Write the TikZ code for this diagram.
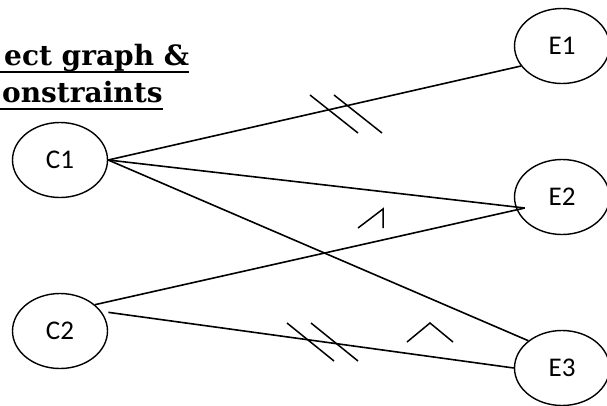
\documentclass[tikz,border=0pt]{standalone}
\usepackage{fontspec}
\setmainfont{Carlito}
\newfontfamily\titlefont{DejaVu Serif}
\usetikzlibrary{shapes.geometric,calc}
\begin{document}
\begin{tikzpicture}[x=1pt,y=-1pt,
  ev/.style={draw,line width=1.4pt,ellipse,minimum width=95pt,minimum height=75pt,inner sep=0pt,font=\fontsize{27}{30}\selectfont},
  edge/.style={line width=1.6pt},
  cmark/.style={line width=1.5pt},
  ttl/.style={anchor=base west,inner sep=0pt,font=\titlefont\bfseries\fontsize{28}{32}\selectfont},
  uline/.style={line width=1.8pt}]
\useasboundingbox (0,0) rectangle (607,405);
\clip (0,0) rectangle (607,405);
% title
\node[ttl] (t1) at (4,65) {ect graph \&};
\node[ttl] (t2) at (2,102) {onstraints};
\draw[uline] ($(t1.base west)+(-6,7)$) -- ($(t1.base east)+(0,7)$);
\draw[uline] ($(t2.base west)+(-4,7)$) -- ($(t2.base east)+(0,7)$);
% nodes
\node[ev] (C1) at (60,160) {C1};
\node[ev] (C2) at (60,331) {C2};
\node[ev] (E1) at (562,46) {E1};
\node[ev] (E2) at (562,197) {E2};
\node[ev] (E3) at (562,368) {E3};
\coordinate (E2in) at ([xshift=11pt,yshift=-11pt]E2.west);
\coordinate (C2out) at ([xshift=5pt,yshift=2pt]C2.21);
% connectors
\draw[edge] (C1.east) -- (E1.206);
\draw[edge] (C1.east) -- (E2in);
\draw[edge] (C1.east) -- (E3.141);
\draw[edge] (C2.37) -- (E2in);
\draw[edge] (C2out) -- (E3.west);
% constraint marks
\draw[cmark] (310,95) -- (358,133);
\draw[cmark] (334,95) -- (382,133);
\draw[cmark] (287,323) -- (334,361);
\draw[cmark] (311,323) -- (358,361);
\draw[cmark] (358,228) -- (383,209) -- (383,228);
\draw[cmark] (407,342) -- (430,323) -- (453,342);
\end{tikzpicture}
\end{document}
